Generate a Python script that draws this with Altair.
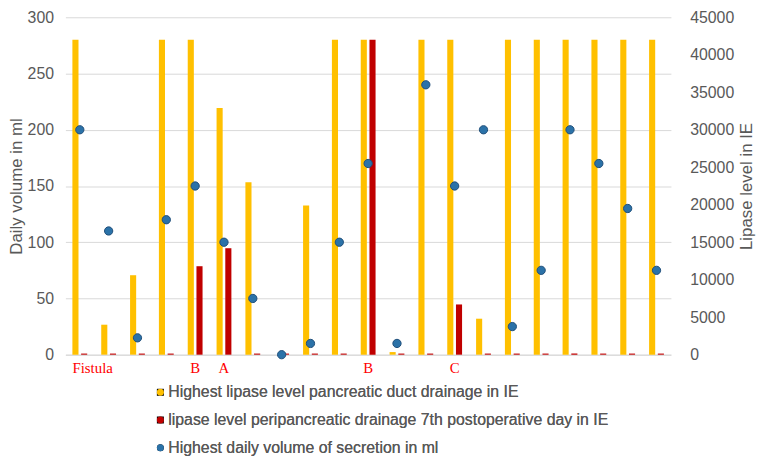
import altair as alt
import pandas as pd

patients = [f"P{i}" for i in range(1, 22)]
lipase_duct = [42000, 4000, 10600, 42000, 42000, 32900, 23000, 0, 19900, 42000, 42000,
               350, 42000, 42000, 4800, 42000, 42000, 42000, 42000, 42000, 42000]
lipase_peri = [150, 150, 150, 150, 11800, 14200, 150, 150, 150, 150, 42000,
               150, 150, 6700, 150, 150, 150, 150, 150, 150, 150]
volume_ml = [200, 110, 15, 120, 150, 100, 50, 0, 10, 100, 170,
             10, 240, 150, 200, 25, 75, 200, 170, 130, 75]
annotations = ["Fistula", "", "", "", "B", "A", "", "", "", "", "B",
               "", "", "C", "", "", "", "", "", "", ""]

s1 = "Highest lipase level pancreatic duct drainage in IE"
s2 = "lipase level peripancreatic drainage 7th postoperative day in IE"
s3 = "Highest daily volume of secretion in ml"
series_names = [s1, s2, s3]
series_colors = ["#FFC000", "#C00000", "#2B72A8"]

bars = pd.DataFrame({
    "patient": patients * 2,
    "series": [s1] * len(patients) + [s2] * len(patients),
    "value": lipase_duct + lipase_peri,
})
points = pd.DataFrame({"patient": patients, "series": [s3] * len(patients), "volume": volume_ml})
notes = pd.DataFrame({"patient": patients, "label": annotations})
notes = notes[notes["label"] != ""]

FONT = "Liberation Sans"
GREY = "#595959"

x_enc = alt.X("patient:N", sort=patients,
              scale=alt.Scale(paddingInner=0.486, paddingOuter=0.243),
              axis=alt.Axis(labels=False, ticks=False, title=None, domain=True,
                            domainColor="#d9d9d9", grid=False))

bar_layer = alt.Chart(bars).mark_bar().encode(
    x=x_enc,
    xOffset=alt.XOffset("series:N", sort=[s1, s2], scale=alt.Scale(paddingInner=0.3)),
    y=alt.Y("value:Q", scale=alt.Scale(domain=[0, 45000]),
            axis=alt.Axis(orient="right", title="Lipase level in IE", values=list(range(0, 45001, 5000)),
                          grid=False, domain=False, ticks=False, labelPadding=19,
                          titlePadding=22, titleAngle=270, format="d")),
    color=alt.Color("series:N", scale=alt.Scale(domain=[s1, s2], range=series_colors[:2]), legend=None),
)

legend_opts = dict(title=None, orient="none", legendX=88, legendY=371,
                   direction="vertical", symbolSize=50, rowPadding=12,
                   labelFontSize=16, labelColor=GREY, labelFont=FONT,
                   labelOffset=0, symbolStrokeWidth=0, labelLimit=600)

point_layer = alt.Chart(points).mark_point(filled=True, size=70, opacity=1, stroke="#1F4E79", strokeWidth=1).encode(
    x=alt.X("patient:N", sort=patients),
    y=alt.Y("volume:Q", scale=alt.Scale(domain=[0, 300]),
            axis=alt.Axis(orient="left", title="Daily volume in ml", values=list(range(0, 301, 50)),
                          grid=True, gridColor="#d9d9d9", domain=False, ticks=False,
                          labelPadding=12, titlePadding=2)),
    color=alt.Color("series:N", scale=alt.Scale(domain=series_names, range=series_colors),
                    legend=alt.Legend(**legend_opts)),
    shape=alt.Shape("series:N", scale=alt.Scale(domain=series_names, range=["square", "square", "circle"]),
                    legend=alt.Legend(**legend_opts)),
)

text_fistula = alt.Chart(notes).transform_filter(alt.datum.label == "Fistula").mark_text(
    font="Liberation Serif", fontSize=15, color="#FF0000", baseline="middle", dx=13).encode(
    x=alt.X("patient:N", sort=patients),
    y=alt.value(355),
    text="label:N",
)
text_letters = alt.Chart(notes).transform_filter(alt.datum.label != "Fistula").mark_text(
    font="Liberation Serif", fontSize=15, color="#FF0000", baseline="middle").encode(
    x=alt.X("patient:N", sort=patients),
    y=alt.value(355),
    text="label:N",
)

chart = alt.layer(bar_layer, point_layer, text_fistula, text_letters).resolve_scale(
    y="independent", color="independent"
).properties(
    width=612, height=341,
    autosize=alt.AutoSizeParams(type="none"),
    padding={"left": 58, "top": 7, "right": 87, "bottom": 101},
).configure_view(stroke=None).configure_axis(
    labelFont=FONT, labelFontSize=16, labelColor=GREY,
    titleFont=FONT, titleFontSize=17, titleColor=GREY, titleFontWeight="normal",
)

chart.save("out.html", embed_options={"renderer": "svg", "actions": False})
